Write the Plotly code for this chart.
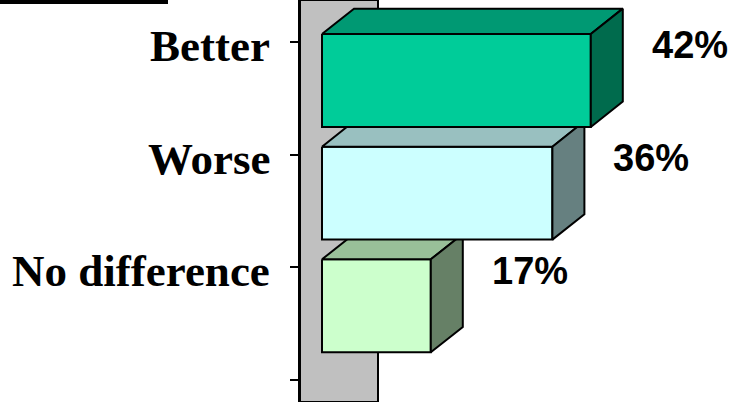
import plotly.graph_objects as go

categories = ["Better", "Worse", "No difference"]
values = [42, 36, 17]
value_labels = ["42%", "36%", "17%"]
front_colors = ["#00CC99", "#CCFFFF", "#CCFFCC"]
top_colors = ["#009973", "#99C0C0", "#99C099"]
side_colors = ["#006B4D", "#668080", "#668066"]

# 3D styling (in axis units)
DEPTH_X = 5.0      # depth offset along value axis
DEPTH_Y = -0.225   # depth offset along category axis
TOP_OFF = -0.071   # front face top relative to category position
BOT_OFF = 0.754    # front face bottom relative to category position

fig = go.Figure()

n = len(categories)
for i in reversed(range(n)):
    v = values[i]
    top = i + TOP_OFF
    bot = i + BOT_OFF
    faces = [
        ([0, v, v, 0, 0], [top, top, bot, bot, top], front_colors[i]),
        ([0, DEPTH_X, v + DEPTH_X, v, 0],
         [top, top + DEPTH_Y, top + DEPTH_Y, top, top], top_colors[i]),
        ([v, v + DEPTH_X, v + DEPTH_X, v, v],
         [top, top + DEPTH_Y, bot + DEPTH_Y, bot, top], side_colors[i]),
    ]
    for xs, ys, col in faces:
        fig.add_trace(go.Scatter(
            x=xs, y=ys, mode="lines", fill="toself", fillcolor=col,
            line=dict(color="black", width=2), hoverinfo="skip",
            showlegend=False, cliponaxis=False))

for i in range(n):
    fig.add_annotation(
        x=values[i] + DEPTH_X, y=i + 0.03, text=value_labels[i],
        xref="x", yref="y", xanchor="left", yanchor="middle",
        xshift=27, showarrow=False,
        font=dict(family="Liberation Sans, Arial, sans-serif", size=38,
                  color="black", weight="bold"))
    # category label next to its tick
    fig.add_annotation(
        x=0, y=i, text=categories[i], xref="paper", yref="y",
        xanchor="right", yanchor="middle", xshift=-28, yshift=-4,
        showarrow=False,
        font=dict(family="Liberation Serif, Times New Roman, serif",
                  size=45, color="black", weight="bold"))

# grey side wall
fig.add_shape(type="rect", xref="x", yref="paper", x0=-3.4375, x1=8.75,
              y0=0, y1=1, fillcolor="#C0C0C0",
              line=dict(color="black", width=2), layer="below")
# black strip at top-left
fig.add_shape(type="rect", xref="paper", yref="paper",
              x0=-300 / 444, x1=(168 - 300) / 444, y0=1 - 4 / 402, y1=1,
              fillcolor="black", line=dict(width=0))

fig.update_layout(
    width=744, height=402,
    margin=dict(l=300, r=0, t=0, b=0),
    paper_bgcolor="white", plot_bgcolor="white",
    xaxis=dict(range=[-3.4375, 65.9375], visible=False, fixedrange=True),
    yaxis=dict(range=[3.1952, -0.3728], tickmode="array",
               tickvals=list(range(n + 1)), ticktext=[""] * (n + 1),
               ticks="outside", ticklen=8, tickwidth=2, tickcolor="black",
               showline=True, linecolor="black", linewidth=2,
               showgrid=False, zeroline=False, fixedrange=True),
)

fig.write_html("out.html", config={"displayModeBar": False})

with open("out.html", "r", encoding="utf-8") as f:
    html = f.read()
html = html.replace("<head>", "<head><style>html,body{margin:0;padding:0;overflow:hidden;}</style>", 1)
with open("out.html", "w", encoding="utf-8") as f:
    f.write(html)
